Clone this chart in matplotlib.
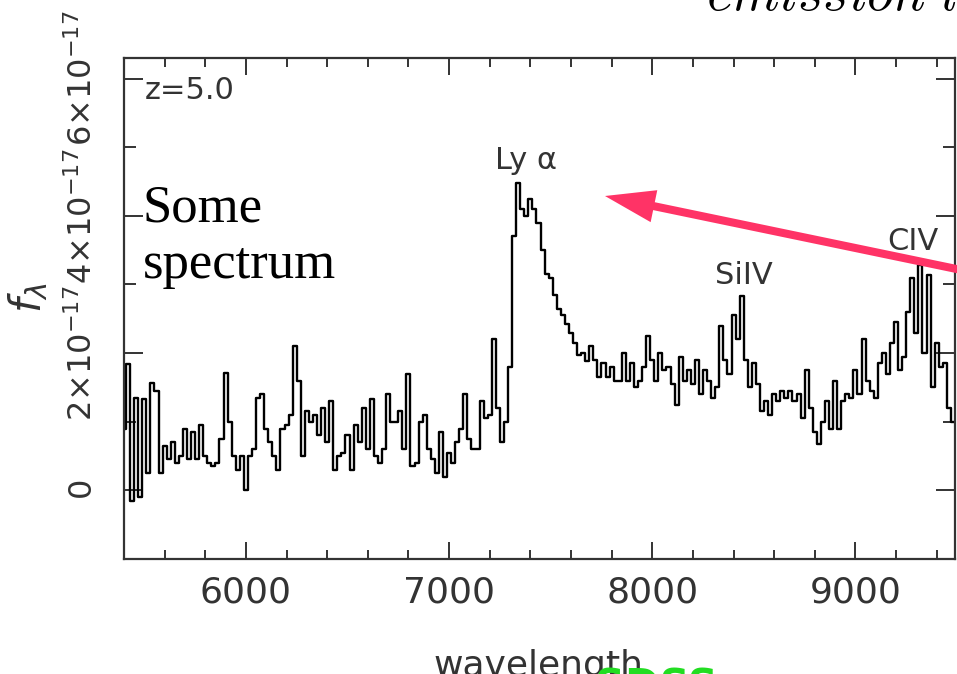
import numpy as np
import matplotlib
matplotlib.use("Agg")
import matplotlib.pyplot as plt
from matplotlib.patches import FancyArrowPatch
from matplotlib.transforms import IdentityTransform

plt.rcParams['font.family'] = ['DejaVu Sans']

# SDSS spectrum z=5.0, flux in units of 1e-17, one value every 20 A from 5400 A
lam_start = 5400
lam_step = 20
flux = [0.9, 1.84, -0.15, 1.35, -0.1, 1.33, 0.25, 1.57, 1.45, 0.25,
        0.65, 0.45, 0.7, 0.4, 0.5, 0.9, 0.45, 0.85, 0.45, 0.95,
        0.5, 0.4, 0.35, 0.4, 0.75, 1.71, 1.0, 0.5, 0.3, 0.5,
        0.0, 0.5, 0.6, 1.35, 1.4, 0.9, 0.7, 0.5, 0.3, 0.9,
        0.95, 1.1, 2.1, 1.6, 0.5, 1.15, 1.0, 1.1, 0.8, 1.2,
        0.7, 1.3, 0.3,
        0.5, 0.55, 0.8, 0.3, 0.95, 0.7, 1.2, 0.6, 1.33, 0.5,
        0.4, 0.6, 1.4, 1.0, 1.0, 1.15, 0.6, 1.7, 0.35, 0.4,
        1.0, 1.1, 0.6, 0.45, 0.25, 0.85, 0.2, 0.55, 0.4, 0.7,
        0.9, 1.4, 0.75, 0.6, 0.6, 1.3, 1.05, 1.1, 2.2, 1.2,
        0.7, 1.0,
        1.8, 3.7, 4.48, 4.1, 4.0, 4.25, 4.1, 3.9, 3.5, 3.15,
        3.1, 2.85, 2.65, 2.55, 2.42, 2.3, 2.15, 1.97, 2.0, 1.88,
        2.1, 1.9, 1.65, 1.85, 1.65, 1.8, 1.6, 1.6, 2.0, 1.6,
        1.85, 1.5, 1.6, 1.8, 2.25, 1.9, 1.6, 2.0, 1.75, 1.8,
        1.55, 1.25, 1.95, 1.6, 1.75,
        1.55, 1.9, 1.4, 1.75, 1.6, 1.35, 1.5, 2.4, 1.9, 1.7,
        2.55, 2.2, 2.83, 1.9, 1.5, 1.85, 1.55, 1.15, 1.3, 1.1,
        1.4, 1.3, 1.45, 1.35, 1.45, 1.3, 1.4, 1.05, 1.75, 1.2,
        0.85, 0.68, 1.0, 1.3, 0.9, 1.6, 0.9, 1.3, 1.4, 1.35,
        1.75, 1.4, 2.2, 1.6, 1.45, 1.35, 1.85, 2.0, 1.7, 2.15,
        2.45, 1.75, 1.95, 2.6, 3.1, 2.3, 3.29, 2.0, 3.14, 1.5,
        2.15, 1.8, 1.85, 1.2, 1.0]

line_names = ["Ly α", "SiIV", "CIV"]
line_wave = [7378, 8451, 9283]
line_flux = [4.8, 3.13, 3.62]

xticks = [6000, 7000, 8000, 9000]
yticks = [0, 2, 4, 6]
ytick_labels = [r"$0$", r"$2{\times}10^{-17}$", r"$4{\times}10^{-17}$", r"$6{\times}10^{-17}$"]

wave = lam_start + lam_step * np.arange(len(flux))
flux = np.array(flux) * 1e-17

W, H = 957, 674
fig = plt.figure(figsize=(W / 100, H / 100), dpi=100)
ax = fig.add_axes([124 / W, 1 - 559 / H, (955 - 124) / W, (559 - 58) / H])

ax.plot(wave, flux, color='k', lw=1.7, drawstyle='steps-mid')

ax.set_xlim(5400, 9490)
ax.set_ylim(-1e-17, 6.3e-17)
ax.set_xticks(xticks)
ax.set_xticks(np.arange(5600, 9490, 200), minor=True)
ax.set_yticks([v * 1e-17 for v in yticks])
ax.set_yticklabels(ytick_labels, rotation=90, va='center')
ax.set_yticks([1e-17, 3e-17, 5e-17], minor=True)

gray = '#333333'
for s in ax.spines.values():
    s.set_color(gray)
    s.set_linewidth(1.6)
ax.tick_params(which='both', direction='in', top=True, right=True, color=gray, width=1.4,
               labelcolor=gray)
ax.tick_params(axis='x', which='major', length=12, pad=12, labelsize=26)
ax.tick_params(axis='x', which='minor', length=6.5)
ax.tick_params(axis='y', which='major', length=14, pad=18, labelsize=23)
ax.tick_params(axis='y', which='minor', length=8.5)

ax.text(5503, 5.83e-17, 'z=5.0', fontsize=22, ha='left', va='center', color=gray)
for name, lw_, lf in zip(line_names, line_wave, line_flux):
    ax.text(lw_, lf * 1e-17, name, fontsize=22, ha='center', va='center', color=gray)

# y label and x label (the x label is cut by the bottom edge)
fig.text(28 / W, 1 - 298 / H, r'$f_\lambda$', rotation=90, fontsize=30,
         ha='center', va='center', color=gray)
fig.text(433 / W, 1 - 676 / H, 'wavelength', fontsize=26, ha='left', va='baseline', color=gray)

# slide overlays
fig.text(143 / W, 1 - 222 / H, 'Some', fontsize=38, family='Liberation Serif', va='baseline')
fig.text(143 / W, 1 - 278 / H, 'spectrum', fontsize=38, family='Liberation Serif', va='baseline')
fig.text(706 / W, 1 - 10 / H, r'$emission\ lines$', fontsize=39, math_fontfamily='cm',
         ha='left', va='baseline')
fig.text(595 / W, 1 - 667 / H, 'SDSS', fontsize=30, color='#22dd22', fontweight='bold',
         ha='left', va='top')

arrow = FancyArrowPatch((995, H - 277), (605, H - 196), transform=IdentityTransform(),
                        arrowstyle='simple,head_length=36,head_width=23.5,tail_width=5.8',
                        mutation_scale=1, shrinkA=0, shrinkB=0, color='#ff3366', lw=0)
fig.add_artist(arrow)

fig.savefig('out.png', dpi=100)
